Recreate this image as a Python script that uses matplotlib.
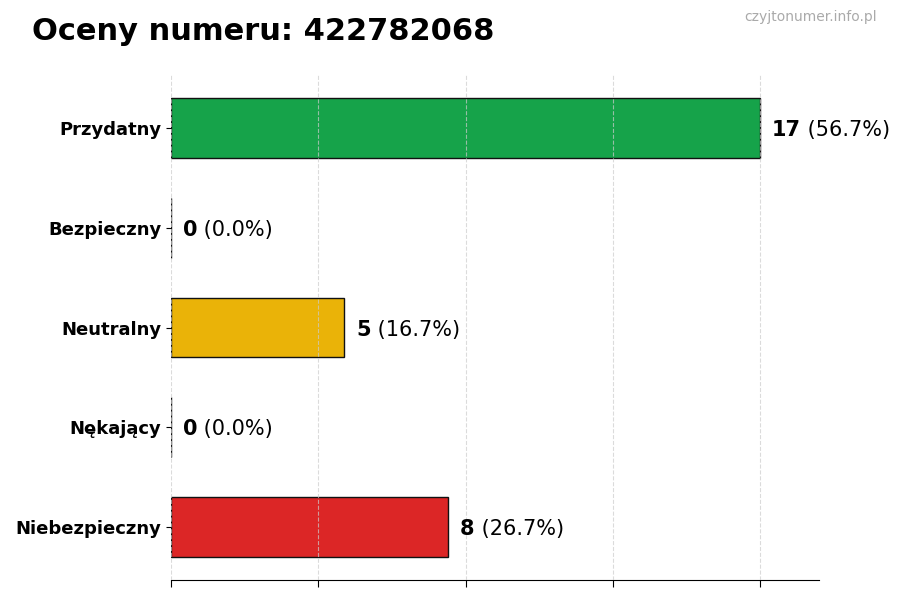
import matplotlib
matplotlib.use("Agg")
import matplotlib.pyplot as plt
import numpy as np

CATEGORIES = ["Przydatny", "Bezpieczny", "Neutralny", "Nękający", "Niebezpieczny"]
COUNTS = [17, 0, 5, 0, 8]
COLORS = ["#16a34a", "#2563eb", "#eab308", "#f97316", "#dc2626"]
TITLE = "Oceny numeru: 422782068"
WATERMARK = "czyjtonumer.info.pl"


def main():
    total = sum(COUNTS)
    max_count = max(COUNTS)
    y = np.arange(len(CATEGORIES))

    fig = plt.figure(figsize=(9, 6), dpi=100)
    ax = fig.add_axes([0.19, 0.0333, 0.72, 0.8417])

    ax.barh(y, COUNTS, height=0.6, color=COLORS, edgecolor="#111111", linewidth=1, zorder=2)
    ax.set_ylim(len(CATEGORIES) - 0.47, -0.53)
    ax.set_xlim(0, max_count * 1.1)

    ax.set_yticks(y)
    ax.set_yticklabels(CATEGORIES, fontsize=13, fontweight="bold")
    ax.set_xticks(np.linspace(0, max_count, 5))
    ax.set_xticklabels([])
    ax.tick_params(axis="x", length=5)

    ax.grid(axis="x", linestyle="--", color="#cccccc", alpha=0.7, linewidth=0.8, zorder=3)
    ax.set_axisbelow(False)
    for side in ["top", "right", "left"]:
        ax.spines[side].set_visible(False)

    for yi, count in zip(y, COUNTS):
        pct = count / total * 100 if total else 0
        t = ax.text(count + max_count * 0.02, yi + 0.02, f"{count}", fontsize=15,
                    fontweight="bold", va="center", ha="left", zorder=4)
        ax.annotate(f" ({pct:.1f}%)", xy=(1, 0), xycoords=t, va="bottom",
                    ha="left", fontsize=15, zorder=4)

    fig.text(0.035, 0.948, TITLE, fontsize=22, fontweight="bold", va="center", ha="left")
    fig.text(0.974, 0.971, WATERMARK, fontsize=10, color="#aaaaaa", va="center", ha="right")

    fig.savefig("out.png", dpi=100)
    plt.close(fig)


if __name__ == "__main__":
    main()
